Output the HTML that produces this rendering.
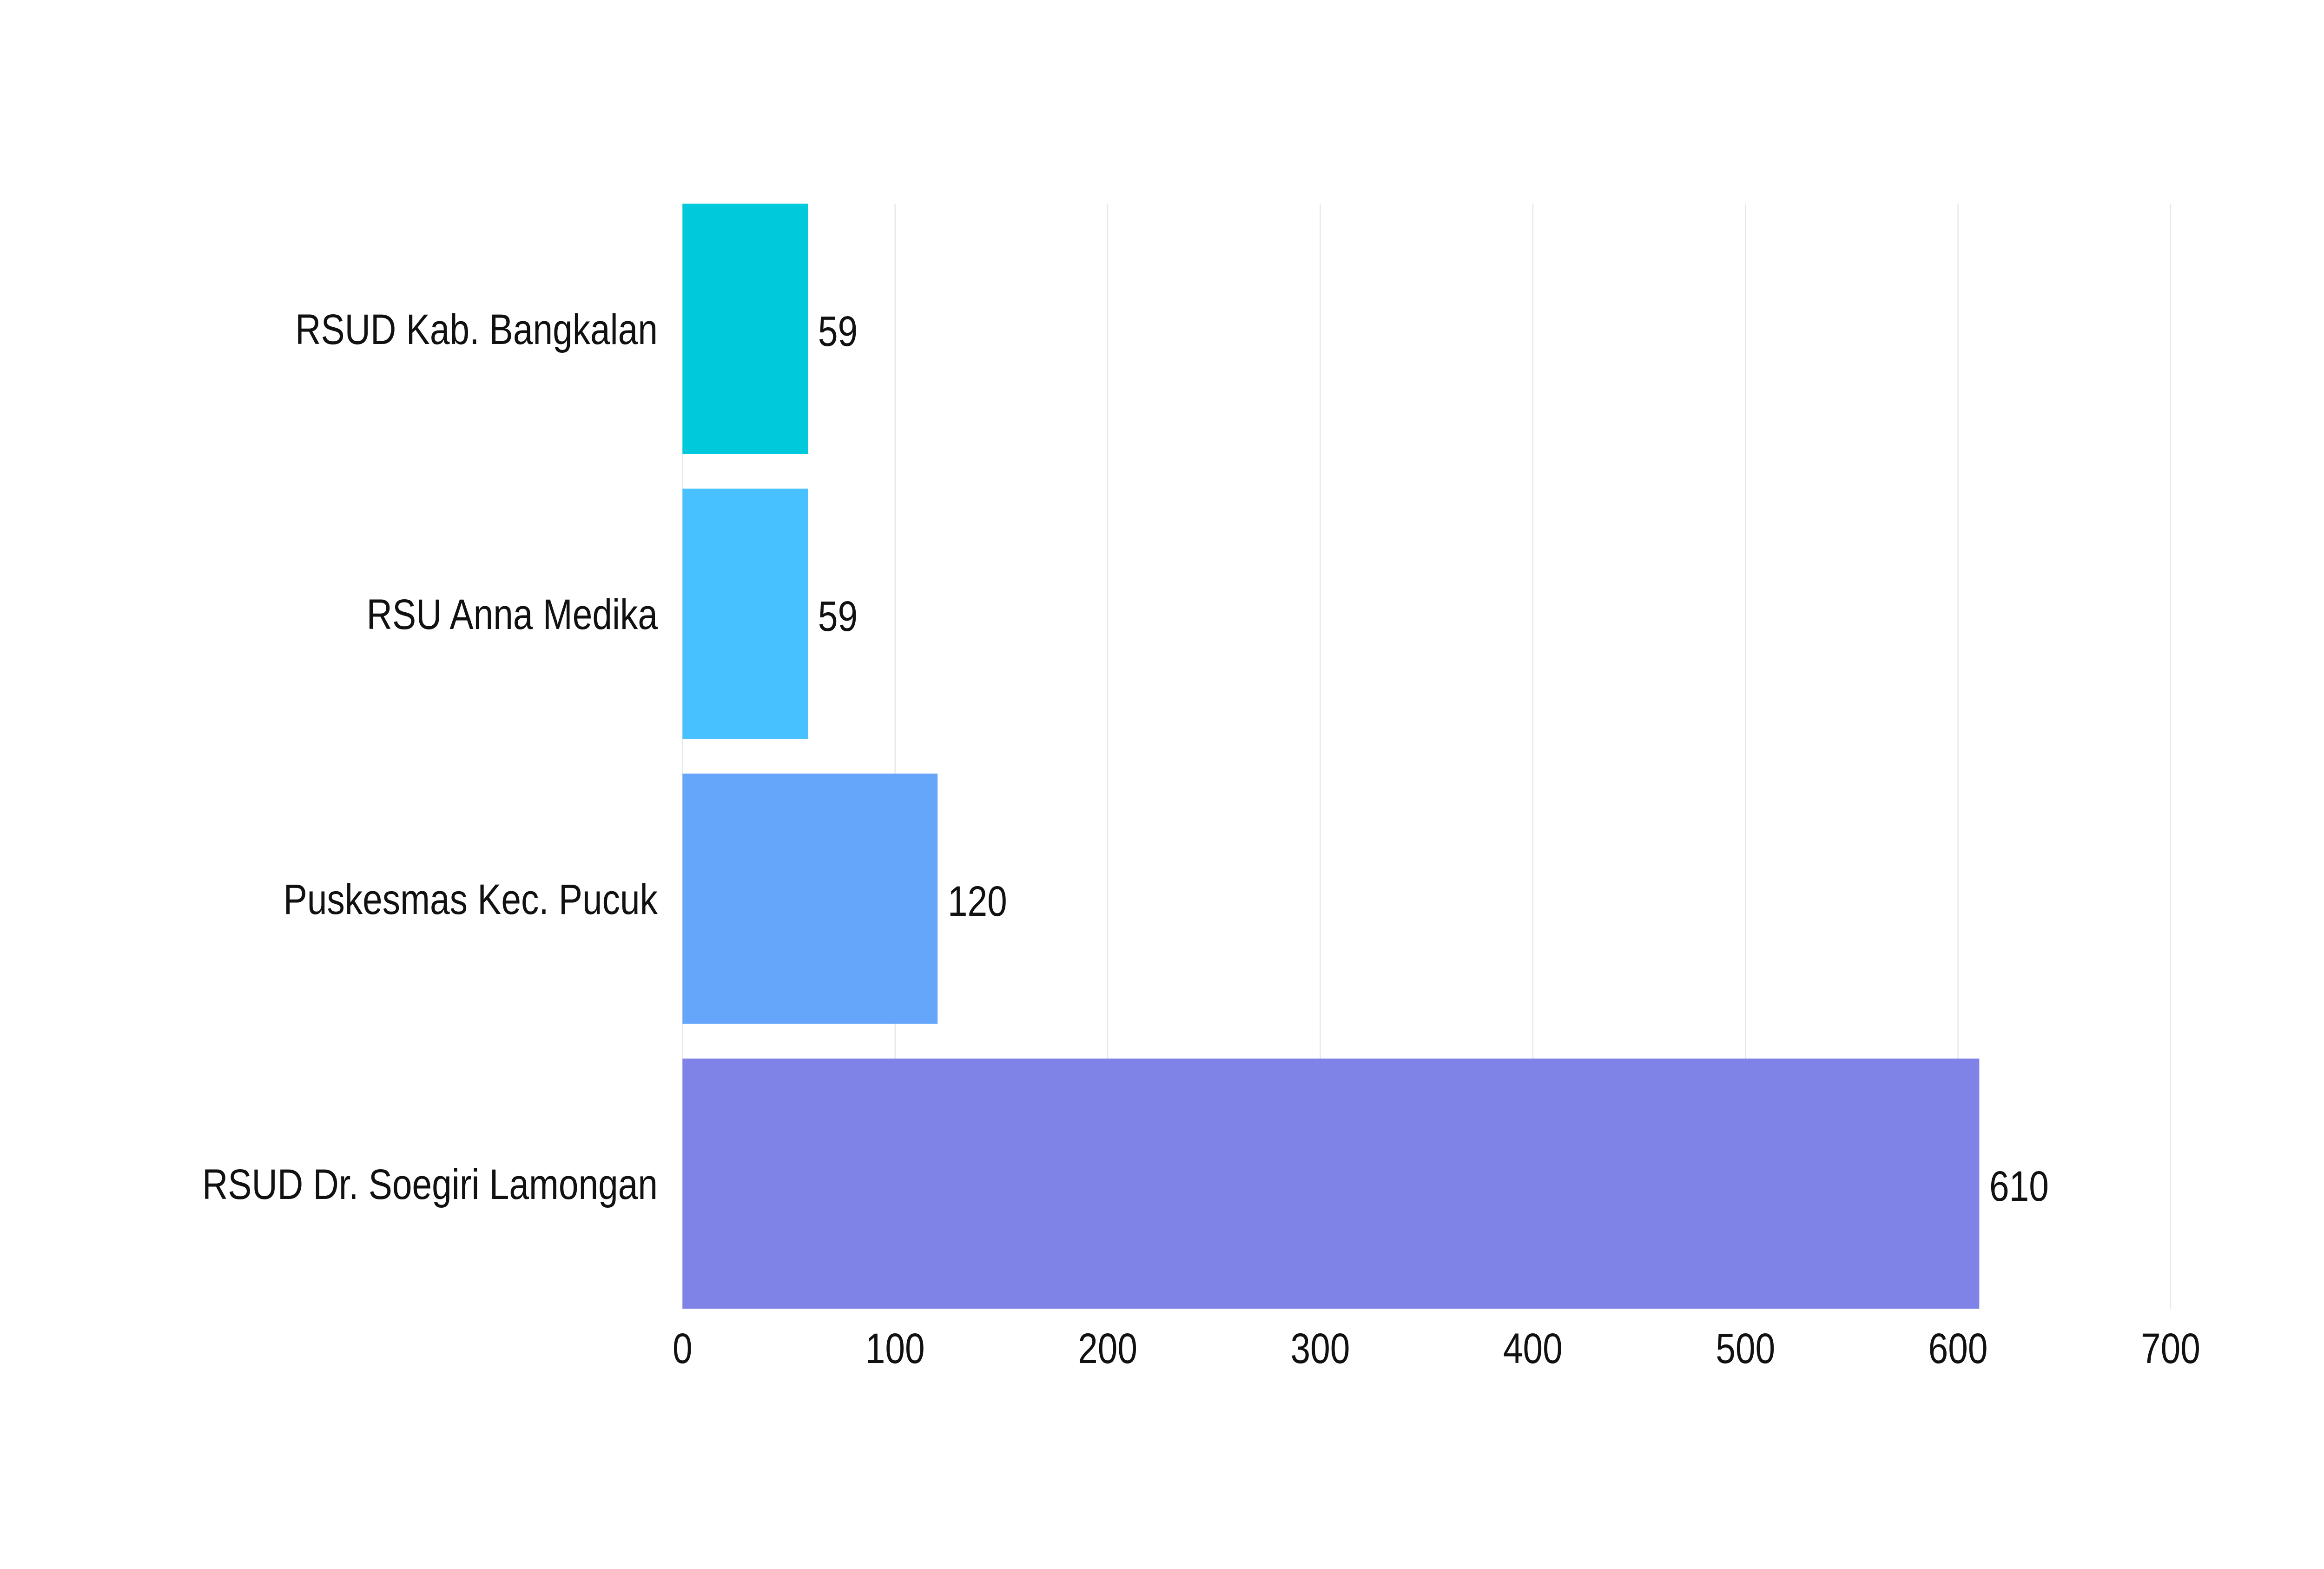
<!DOCTYPE html>
<html><head><meta charset="utf-8"><style>
html,body{margin:0;padding:0;background:#fff;overflow:hidden;width:100%;height:100%;}
svg{display:block;font-family:"Liberation Sans",sans-serif;width:100vw;height:100vh;}
</style></head><body>
<svg id="chart" viewBox="0 0 6000 3375" preserveAspectRatio="none" xmlns="http://www.w3.org/2000/svg">
<rect width="6000" height="3375" fill="#fff"/>
<g id="grid"></g><g id="bars"></g><g id="labels"></g>
</svg>
<script>
const categories=["RSUD Kab. Bangkalan","RSU Anna Medika","Puskesmas Kec. Pucuk","RSUD Dr. Soegiri Lamongan"];
const values=[59,59,120,610];
const colors=["#00c9db","#47c1ff","#66a6fa","#7f82e6"];
const ticks=[0,100,200,300,400,500,600,700];
const SVGNS="http://www.w3.org/2000/svg";
const plotX0=1762,plotX1=5604,plotTop=438,bandH=613,barH=538;
function xs(v){return plotX0+(plotX1-plotX0)*v/700;}
function ys(i){return plotTop+i*bandH;}
const gridG=document.getElementById('grid'),barsG=document.getElementById('bars'),labelsG=document.getElementById('labels');
function mk(t,a){const e=document.createElementNS(SVGNS,t);for(const k in a)e.setAttribute(k,a[k]);return e;}
ticks.forEach(t=>{
 const l=mk('line',{x1:xs(t),x2:xs(t),y1:plotTop,y2:ys(3)+barH,stroke:'#e8e8e8','stroke-width':3});
 
 
 gridG.appendChild(l);
 const tx=mk('text',{x:xs(t),y:2932,'font-size':92,'text-anchor':'middle',fill:'#111'});
 tx.textContent=t;
 
 
 labelsG.appendChild(tx);
});
categories.forEach((c,i)=>{
 const r=mk('rect',{x:xs(0),y:ys(i),width:xs(values[i])-xs(0),height:barH,fill:colors[i]});
 
 
 barsG.appendChild(r);
 const cy=ys(i)+barH/2+33;
 const lt=mk('text',{x:1698,y:cy,'font-size':92,'text-anchor':'end',fill:'#111'});
 lt.textContent=c;
 
 
 labelsG.appendChild(lt);
 const vt=mk('text',{x:xs(values[i])+26,y:cy+4,'font-size':92,fill:'#111'});
 vt.textContent=values[i];
 
 
 labelsG.appendChild(vt);
});
</script>
</body></html>
